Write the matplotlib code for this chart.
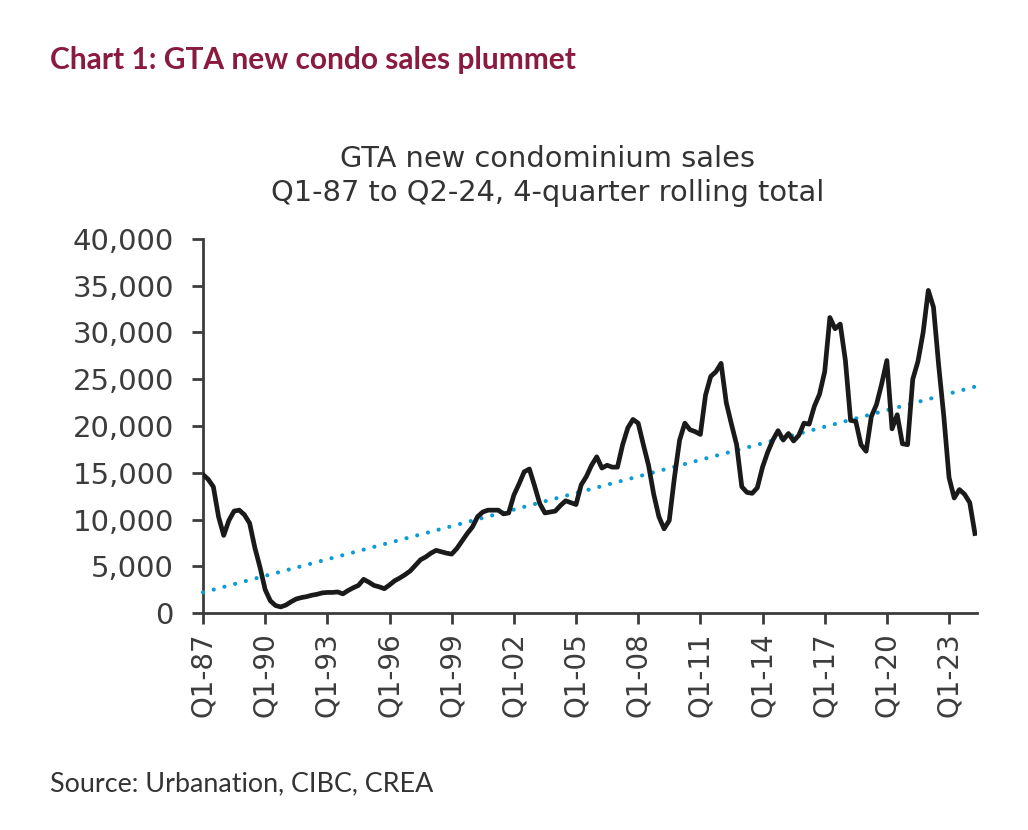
import numpy as np
import matplotlib
matplotlib.use('Agg')
import matplotlib.pyplot as plt
from matplotlib.ticker import FuncFormatter

# 4-quarter rolling total of GTA new condo sales, Q1-87 .. Q2-24
sales = [
    14800, 14300, 13500, 10300, 8300, 9900, 10900, 11000, 10500, 9600,   # 87-89
    7000, 4900, 2500, 1300, 800, 650, 850, 1200, 1500, 1650,             # 89-91
    1750, 1900, 2000, 2150, 2200, 2200, 2250, 2050, 2400, 2700,          # 92-94
    2950, 3600, 3300, 2950, 2800, 2600, 3000, 3450, 3750, 4100,          # 94-96
    4500, 5100, 5700, 6000, 6400, 6700, 6550, 6400, 6300, 6900,          # 97-99
    7700, 8500, 9200, 10300, 10800, 11000, 11000, 11000, 10600, 10700,   # 99-01
    12600, 13800, 15100, 15400, 13600, 11700, 10700, 10800, 10900, 11500, # 02-04
    12000, 11800, 11600, 13700, 14600, 15800, 16700, 15500, 15800, 15600, # 04-06
    15600, 18000, 19800, 20700, 20300, 18000, 15800, 12700, 10300, 9000,  # 07-09
    9900, 14500, 18500, 20300, 19600, 19400, 19100, 23300, 25300, 25800,  # 09-11
    26700, 22500, 20200, 18000, 13500, 12900, 12800, 13400, 15600, 17200, # 12-14
    18500, 19500, 18500, 19200, 18400, 19000, 20300, 20200, 22100, 23400, # 14-16
    25800, 31600, 30400, 30900, 27000, 20600, 20500, 18000, 17300, 21000, # 17-19
    22300, 24500, 27000, 19700, 21200, 18100, 18000, 25000, 26900, 30000, # 19-21
    34500, 32700, 26500, 21000, 14500, 12300, 13200, 12700, 11800, 8500,  # 22-24
]

# linear trend end points (Q1-87, Q2-24)
trend_x = [0, len(sales) - 1]
trend_y = [2200, 24200]

tick_labels = ['Q1-87', 'Q1-90', 'Q1-93', 'Q1-96', 'Q1-99', 'Q1-02', 'Q1-05',
               'Q1-08', 'Q1-11', 'Q1-14', 'Q1-17', 'Q1-20', 'Q1-23']
y_ticks = [0, 5000, 10000, 15000, 20000, 25000, 30000, 35000, 40000]

plt.rcParams['font.family'] = ['DejaVu Sans']
text_col = '#3c3c3c'

fig = plt.figure(figsize=(10.28, 8.30), dpi=100)
ax = fig.add_axes([203/1028, 217/830, 774/1028, 374/830])

x = np.arange(len(sales))
ax.plot(trend_x, trend_y, color='#0b9bd7', lw=3.0, linestyle=(0, (0.01, 2.65)),
        dash_capstyle='round', zorder=3, clip_on=False)
ax.plot(x, sales, color='#1a1a1a', lw=3.4, solid_joinstyle='round', zorder=4)

ax.set_xlim(0, 149.4)
ax.set_ylim(0, 40000)
ax.set_xticks(np.arange(0, 12 * len(tick_labels), 12))
ax.set_xticklabels(tick_labels, rotation=90)
ax.set_yticks(y_ticks)
ax.yaxis.set_major_formatter(FuncFormatter(lambda v, p: f'{int(v):,}'))

for s in ['top', 'right']:
    ax.spines[s].set_visible(False)
for s in ['left', 'bottom']:
    ax.spines[s].set_color(text_col)
    ax.spines[s].set_linewidth(2.0)
ax.tick_params(axis='both', colors=text_col, width=2.0, length=8,
               labelcolor=text_col)
ax.tick_params(axis='y', labelsize=21, pad=13)
ax.tick_params(axis='x', labelsize=20, pad=6)

fig.text(50/1028, 1 - 60/830, 'Chart 1: GTA new condo sales plummet',
         color='#8a1a3e', fontsize=21.5, fontweight='bold', family=['Lato'],
         va='center', ha='left')
fig.text(548/1028, 1 - 176/830,
         'GTA new condominium sales\nQ1-87 to Q2-24, 4-quarter rolling total',
         color='#333333', fontsize=20.8, ha='center', va='center',
         linespacing=1.3)
fig.text(50/1028, 1 - 784/830, 'Source: Urbanation, CIBC, CREA',
         color='#333333', fontsize=19.4, family=['Lato'], ha='left', va='center')

fig.savefig('out.png', dpi=100)
